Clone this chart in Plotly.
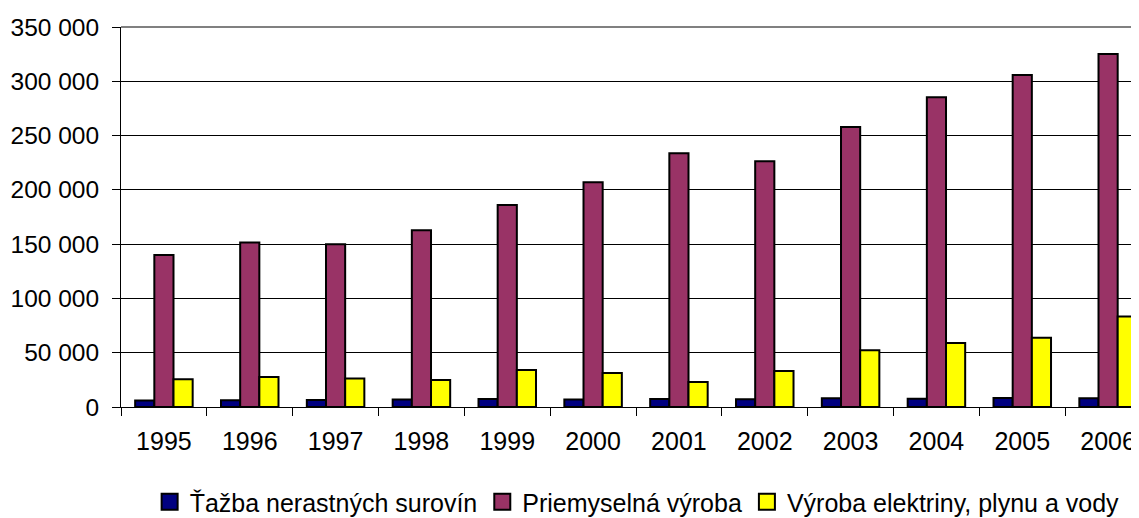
import plotly.graph_objects as go

years = ["1995", "1996", "1997", "1998", "1999", "2000", "2001", "2002", "2003", "2004", "2005", "2006"]
tazba = [5900, 6200, 6500, 6800, 7400, 6800, 7400, 7100, 8000, 7700, 8300, 8000]
priemysel = [140000, 151600, 149800, 162700, 186000, 207000, 233800, 226400, 258000, 285400, 305700, 325100]
energia = [25500, 27700, 26200, 24900, 34100, 31400, 23100, 33200, 52300, 59000, 63700, 83400]

series_names = ["Ťažba nerastných surovín", "Priemyselná výroba", "Výroba elektriny, plynu a vody"]
series_colors = ["#000080", "#993366", "#FFFF00"]
y_ticks = [0, 50000, 100000, 150000, 200000, 250000, 300000, 350000]
y_labels = ["0", "50 000", "100 000", "150 000", "200 000", "250 000", "300 000", "350 000"]

FONT = "Liberation Sans, Arial, sans-serif"

fig = go.Figure()
for name, vals, col in zip(series_names, [tazba, priemysel, energia], series_colors):
    fig.add_trace(go.Bar(
        x=years, y=vals, name=name, legendgroup=name, showlegend=False,
        marker=dict(color=col, line=dict(color="black", width=2)),
    ))
# legend entries with larger bordered square swatches
for name, col in zip(series_names, series_colors):
    fig.add_trace(go.Scatter(
        x=[None], y=[None], mode="markers", name=name, legendgroup=name,
        marker=dict(symbol="square", size=16, color=col, line=dict(color="black", width=2)),
        hoverinfo="skip",
    ))

# page body adds an 8px offset, so the figure is sized/positioned to compensate
fig.update_layout(
    width=1131, height=510,
    margin=dict(l=113, r=0, t=19, b=111, autoexpand=False),
    paper_bgcolor="white", plot_bgcolor="white",
    barmode="group", bargap=0.33, bargroupgap=0,
    font=dict(family=FONT, size=24, color="black"),
    showlegend=True,
    legend=dict(
        orientation="h", x=0.507, xanchor="center", y=-0.25, yanchor="middle",
        font=dict(family=FONT, size=25, color="black"),
        itemwidth=30, tracegroupgap=0, traceorder="normal", itemsizing="trace",
    ),
    xaxis=dict(
        type="category", categoryarray=years, categoryorder="array",
        range=[-0.5, 11.36], automargin=False,
        showline=True, linecolor="black", linewidth=1,
        ticks="outside", tickson="boundaries", ticklen=8, tickcolor="black",
        showgrid=False, zeroline=False,
        ticklabelstandoff=12,
        tickfont=dict(family=FONT, size=25, color="black"),
    ),
    yaxis=dict(
        range=[0, 350000], tickvals=y_ticks, ticktext=y_labels, automargin=False,
        showline=True, linecolor="black", linewidth=1,
        ticks="outside", ticklen=8, tickcolor="black",
        showgrid=True, gridcolor="black", gridwidth=1,
        zeroline=False,
        ticklabelstandoff=8,
        tickfont=dict(family=FONT, size=24.5, color="black"),
    ),
    shapes=[dict(type="line", xref="paper", yref="paper", x0=0, x1=1, y0=1, y1=1,
                 line=dict(color="#808080", width=2))],
)

fig.write_html("out.html")
